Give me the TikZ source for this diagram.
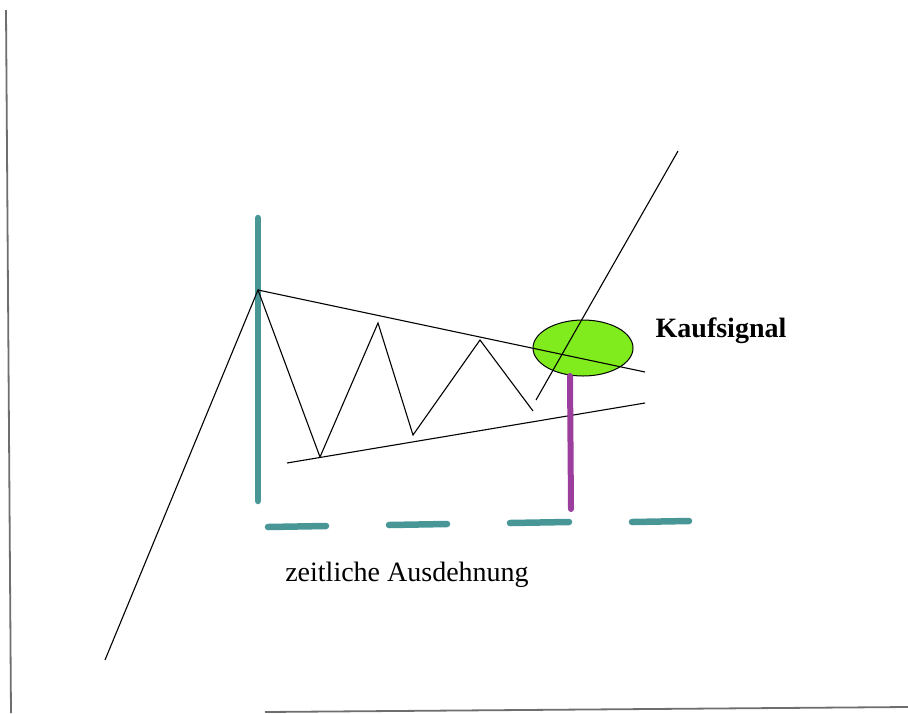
\documentclass[tikz,border=0pt]{standalone}
\usepackage{fontspec}
\setmainfont{Liberation Serif}
\usetikzlibrary{shapes.geometric}
\definecolor{tealbar}{RGB}{72,150,150}
\definecolor{purplebar}{RGB}{155,62,158}
\definecolor{signalgreen}{RGB}{128,236,30}
\definecolor{axisgray}{RGB}{110,110,110}
\tikzset{
  trend/.style={draw=black, line width=1.1pt},
  axisline/.style={draw=axisgray, line width=1.8pt},
  tealstroke/.style={draw=tealbar, line width=6.5pt, line cap=round},
  purplestroke/.style={draw=purplebar, line width=6pt, line cap=round},
  labeltext/.style={font=\fontsize{28}{30}\selectfont, inner sep=0pt}
}
\begin{document}
\begin{tikzpicture}[x=1pt, y=-1pt]
  \useasboundingbox (0,0) rectangle (908,713);
  % axes
  \coordinate (ytop) at (6,10);
  \coordinate (ybot) at (11,713);
  \coordinate (xl) at (265,712);
  \coordinate (xr) at (908,707);
  \draw[axisline] (ytop) -- (ybot);
  \draw[axisline] (xl) -- (xr);

  % price path and triangle
  \coordinate (start) at (105,660);
  \coordinate (apex) at (258,290);
  \coordinate (z1) at (320,457);
  \coordinate (z2) at (378,323);
  \coordinate (z3) at (413,435);
  \coordinate (z4) at (480,340);
  \coordinate (z5) at (533,411);
  \coordinate (upend) at (645,372);
  \coordinate (lowstart) at (287,463);
  \coordinate (lowend) at (645,403);
  \coordinate (bstart) at (536,400);
  \coordinate (bend) at (678,151);

  % vertical height bar
  \coordinate (tealtop) at (258,218);
  \coordinate (tealbot) at (258,501);
  \draw[tealstroke] (tealtop) -- (tealbot);

  % buy signal marker
  \node[ellipse, draw=black, line width=1pt, fill=signalgreen,
        minimum width=100pt, minimum height=56pt, inner sep=0pt] (signal) at (583,348) {};

  \draw[trend] (start) -- (apex) -- (z1) -- (z2) -- (z3) -- (z4) -- (z5);
  \draw[trend] (apex) -- (upend);
  \draw[trend] (lowstart) -- (lowend);
  \draw[trend] (bstart) -- (bend);

  % breakout bar
  \coordinate (ptop) at (570,376);
  \coordinate (pbot) at (571,509);
  \draw[purplestroke] (ptop) -- (pbot);

  % time extent dashes
  \coordinate (d1a) at (268,527); \coordinate (d1b) at (326,526);
  \coordinate (d2a) at (389,525); \coordinate (d2b) at (447,524);
  \coordinate (d3a) at (510,523); \coordinate (d3b) at (569,522);
  \coordinate (d4a) at (632,522); \coordinate (d4b) at (689,521);
  \draw[tealstroke] (d1a) -- (d1b);
  \draw[tealstroke] (d2a) -- (d2b);
  \draw[tealstroke] (d3a) -- (d3b);
  \draw[tealstroke] (d4a) -- (d4b);

  % labels
  \node[labeltext, font=\fontsize{28}{30}\selectfont\bfseries] (kauf) at (721,331) {Kaufsignal};
  \node[labeltext] (zeit) at (407,575) {zeitliche Ausdehnung};
\end{tikzpicture}
\end{document}
